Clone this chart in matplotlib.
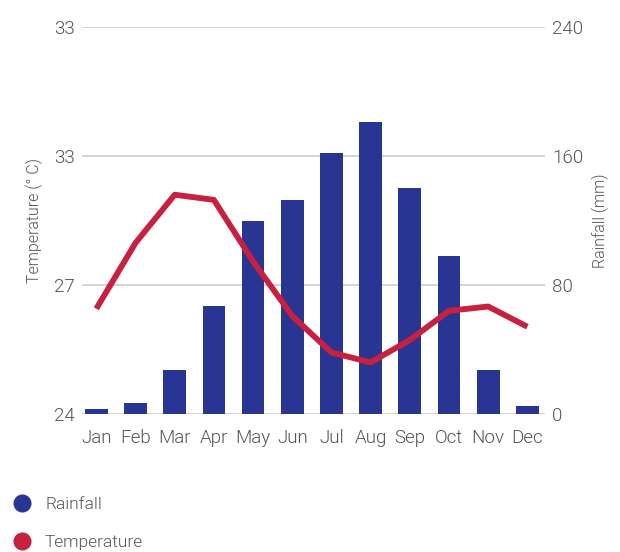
import matplotlib.pyplot as plt
from matplotlib.lines import Line2D

plt.rcParams['font.family'] = ['Roboto', 'DejaVu Sans']
plt.rcParams['font.weight'] = 300
plt.rcParams['axes.labelweight'] = 300

months = ['Jan', 'Feb', 'Mar', 'Apr', 'May', 'Jun', 'Jul', 'Aug', 'Sep', 'Oct', 'Nov', 'Dec']
rainfall = [3, 7, 27, 67, 120, 133, 162, 181, 140, 98, 27, 5]
temperature = [26.45, 27.98, 29.1, 28.98, 27.55, 26.28, 25.43, 25.2, 25.72, 26.4, 26.5, 26.03]
temp_ticks = [24, 27, 30, 33]
temp_tick_labels = ['24', '27', '33', '33']
rain_ticks = [0, 80, 160, 240]

blue = '#283593'
red = '#c8203f'
grey = '#555555'

fig = plt.figure(figsize=(6.2, 5.52), dpi=100)
ax = fig.add_axes([0.132, 0.25, 0.747, 0.701])
ax2 = ax.twinx()

x = range(len(months))
ax2.bar(x, rainfall, width=0.58, color=blue, zorder=2)
ax2.set_ylim(0, 240)
ax2.set_yticks(rain_ticks)

ax.plot(x, temperature, color=red, lw=4.2, solid_capstyle='butt', zorder=3)
ax.set_ylim(24, 33)
ax.set_yticks(temp_ticks)
ax.set_yticklabels(temp_tick_labels)
ax.set_xlim(-0.37, 11.45)
ax.set_xticks(list(x))
ax.set_xticklabels(months)

# line on top of bars
ax.set_zorder(ax2.get_zorder() + 1)
ax.patch.set_visible(False)
ax2.grid(True, axis='y', color='#cccccc', lw=1.2, zorder=0)
ax2.set_axisbelow(True)

for a in (ax, ax2):
    for s in a.spines.values():
        s.set_visible(False)
    a.tick_params(length=0, colors=grey, labelsize=13.5, pad=5)
ax.tick_params(axis='x', pad=11)

ax.set_ylabel('Temperature (° C)', color=grey, fontsize=11.5, labelpad=8)
ax2.set_ylabel('Rainfall (mm)', color=grey, fontsize=11.5, labelpad=6)

handles = [Line2D([], [], ls='none', marker='o', ms=12, color=blue),
           Line2D([], [], ls='none', marker='o', ms=12, color=red)]
fig.legend(handles, ['Rainfall', 'Temperature'], loc='upper left',
           bbox_to_anchor=(-0.003, 0.112), frameon=False, fontsize=12.5,
           labelcolor=grey, handletextpad=0.3, labelspacing=1.3, borderaxespad=0)

fig.savefig('out.png', dpi=100)
